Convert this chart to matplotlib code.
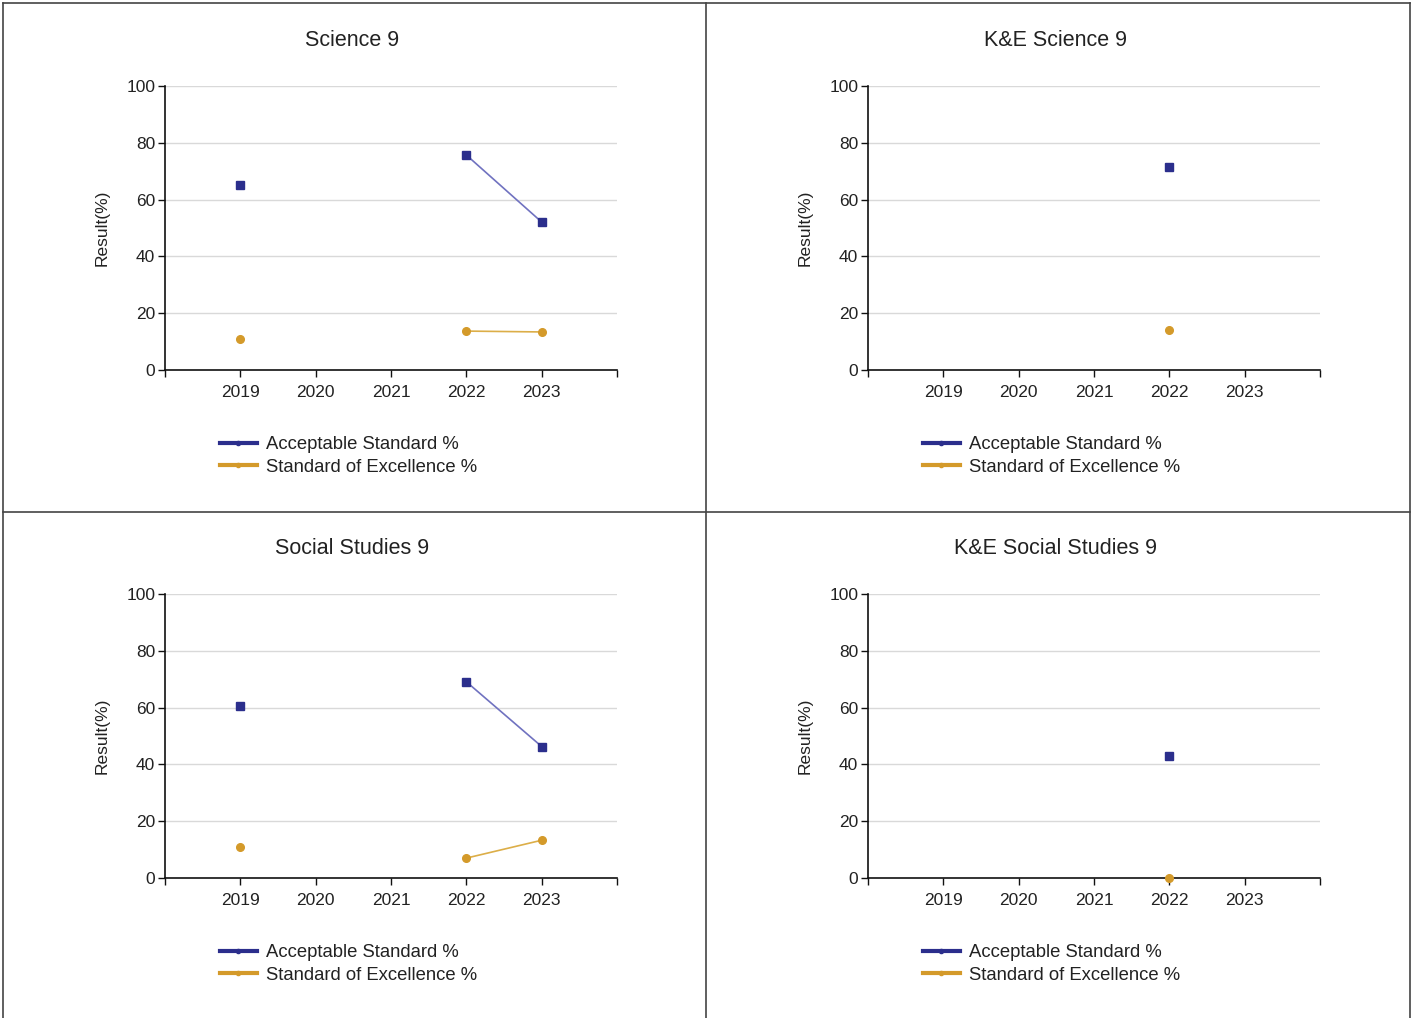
import numpy as np
import matplotlib
matplotlib.use("Agg")
import matplotlib.pyplot as plt
from matplotlib.lines import Line2D

plt.rcParams['font.family'] = ['Liberation Sans', 'DejaVu Sans']

years = [2019, 2020, 2021, 2022, 2023]
year_labels = ["2019", "2020", "2021", "2022", "2023"]
titles = ["Science 9", "K&E Science 9", "Social Studies 9", "K&E Social Studies 9"]
series_names = ["Acceptable Standard %", "Standard of Excellence %"]

sci9_acc = [65.1, np.nan, np.nan, 75.7, 52.1]
sci9_exc = [10.9, np.nan, np.nan, 13.7, 13.4]
ke_sci9_acc = [np.nan, np.nan, np.nan, 71.5, np.nan]
ke_sci9_exc = [np.nan, np.nan, np.nan, 14.1, np.nan]
ss9_acc = [60.4, np.nan, np.nan, 69.1, 46.3]
ss9_exc = [10.9, np.nan, np.nan, 7.0, 13.3]
ke_ss9_acc = [np.nan, np.nan, np.nan, 42.8, np.nan]
ke_ss9_exc = [np.nan, np.nan, np.nan, 0.0, np.nan]

panels = [(sci9_acc, sci9_exc), (ke_sci9_acc, ke_sci9_exc),
          (ss9_acc, ss9_exc), (ke_ss9_acc, ke_ss9_exc)]

W, H = 1413, 1018
fig = plt.figure(figsize=(W / 100, H / 100), dpi=100)
fig.patch.set_facecolor('white')

acc_col = '#2b2e8c'
acc_line = '#7072c0'
exc_col = '#d49a2a'
exc_line = '#dcae48'
txt = '#222222'

# panel geometry in pixels
ax_lefts = [165, 868]
ax_tops = [86, 594]
ax_w, ax_h = 452, 284
title_x = [352, 1055]
title_y = [41, 549]
leg_y = [443, 951]
leg_x = [220, 923]

for i, (acc, exc) in enumerate(panels):
    r, c = divmod(i, 2)
    l = ax_lefts[c]
    t = ax_tops[r]
    ax = fig.add_axes([l / W, 1 - (t + ax_h) / H, ax_w / W, ax_h / H])
    ax.plot(years, acc, color=acc_line, lw=1.2, marker='s', ms=6,
            mfc=acc_col, mec=acc_col, zorder=3)
    ax.plot(years, exc, color=exc_line, lw=1.2, marker='o', ms=5.5,
            mfc=exc_col, mec=exc_col, zorder=3, clip_on=False)
    ax.set_xlim(2018, 2024)
    ax.set_ylim(0, 100)
    ax.set_xticks([2018] + years + [2024])
    ax.set_xticklabels([""] + year_labels + [""])
    ax.set_yticks([0, 20, 40, 60, 80, 100])
    ax.tick_params(axis='both', direction='out', length=5, width=1,
                   labelsize=12.5, labelcolor=txt, color='#111111')
    ax.tick_params(axis='x', pad=6)
    ax.tick_params(axis='y', pad=2)
    ax.grid(axis='y', color='#d9d9d9', lw=1)
    ax.set_axisbelow(True)
    for s in ['top', 'right']:
        ax.spines[s].set_visible(False)
    for s in ['left', 'bottom']:
        ax.spines[s].set_color('#111111')
        ax.spines[s].set_linewidth(1.2)
    ax.set_ylabel("Result(%)", fontsize=12.5, color=txt, labelpad=12)

    fig.text(title_x[c] / W, 1 - title_y[r] / H, titles[i], fontsize=15.5,
             color=txt, ha='center', va='center')

    handles = [Line2D([], [], color=acc_col, lw=3, marker='o', ms=3),
               Line2D([], [], color=exc_col, lw=3, marker='o', ms=3)]
    ax.legend(handles, series_names, loc='upper left',
              bbox_to_anchor=(leg_x[c] / W, 1 - (leg_y[r] - 7) / H),
              bbox_transform=fig.transFigure, frameon=False, fontsize=13.3,
              handlelength=2.0, handletextpad=0.5, labelspacing=0.3,
              borderpad=0, borderaxespad=0, labelcolor=txt)

# panel border lines
bc = '#444444'
for x in [3, 706, 1410]:
    fig.add_artist(Line2D([x / W, x / W], [0, 1 - 3 / H], color=bc, lw=1.2,
                          transform=fig.transFigure))
for y in [3, 512]:
    fig.add_artist(Line2D([3 / W, 1410 / W], [1 - y / H, 1 - y / H], color=bc,
                          lw=1.2, transform=fig.transFigure))

fig.savefig("out.png", dpi=100, facecolor='white')
